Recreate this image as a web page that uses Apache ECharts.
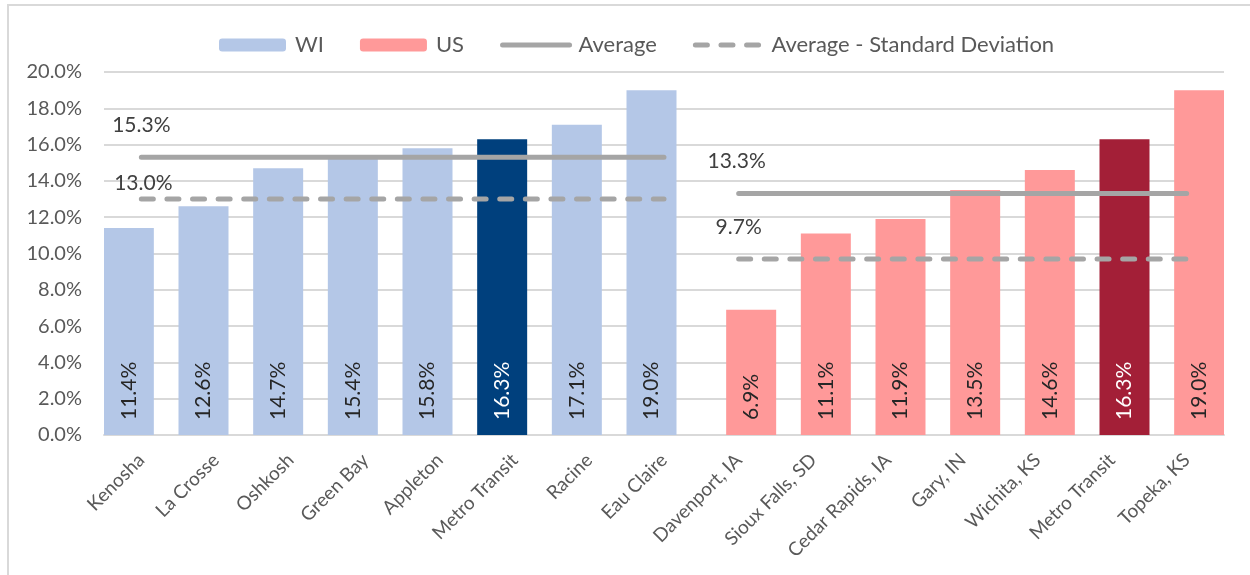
<!DOCTYPE html>
<html>
<head>
<meta charset="utf-8">
<script src="https://cdn.jsdelivr.net/npm/echarts@6/dist/echarts.min.js"></script>
<style>
html,body{margin:0;padding:0;background:#fff;}
#chart{width:1250px;height:575px;}
</style>
</head>
<body>
<div id="chart"></div>
<script>
const categories = ['Kenosha','La Crosse','Oshkosh','Green Bay','Appleton','Metro Transit','Racine','Eau Claire',
  'Davenport, IA','Sioux Falls, SD','Cedar Rapids, IA','Gary, IN','Wichita, KS','Metro Transit','Topeka, KS'];
const wiValues = [11.4, 12.6, 14.7, 15.4, 15.8, 16.3, 17.1, 19.0, '-', '-', '-', '-', '-', '-', '-'];
const usValues = ['-', '-', '-', '-', '-', '-', '-', '-', 6.9, 11.1, 11.9, 13.5, 14.6, 16.3, 19.0];
const wiAverage = [15.3, 15.3, 15.3, 15.3, 15.3, 15.3, 15.3, 15.3, '-', '-', '-', '-', '-', '-', '-'];
const wiAvgMinusSd = [13.0, 13.0, 13.0, 13.0, 13.0, 13.0, 13.0, 13.0, '-', '-', '-', '-', '-', '-', '-'];
const usAverage = ['-', '-', '-', '-', '-', '-', '-', '-', 13.3, 13.3, 13.3, 13.3, 13.3, 13.3, 13.3];
const usAvgMinusSd = ['-', '-', '-', '-', '-', '-', '-', '-', 9.7, 9.7, 9.7, 9.7, 9.7, 9.7, 9.7];
const highlighted = ['Metro Transit'];
const yTicks = { min: 0, max: 20, interval: 2 };

const FONT = 'Lato';
const pct = v => Number(v).toFixed(1) + '%';

function barData(values, darkColor) {
  return values.map((v, i) => {
    if (v === '-') return v;
    if (highlighted.includes(categories[i])) {
      return { value: v, itemStyle: { color: darkColor }, label: { color: '#ffffff' } };
    }
    return v;
  });
}
function lineData(values, labelDistance, labelOffset) {
  let first = true;
  return values.map(v => {
    if (v === '-') return v;
    if (first) {
      first = false;
      return { value: v, label: { show: true, position: 'top', distance: labelDistance, offset: labelOffset,
        formatter: p => pct(p.value), fontFamily: FONT, fontSize: 21, color: '#404040', opacity: 1 } };
    }
    return v;
  });
}

const barLabel = {
  show: true, position: 'insideBottom', rotate: 90, align: 'left', verticalAlign: 'middle',
  distance: 15, formatter: p => pct(p.value), fontFamily: FONT, fontSize: 21, color: '#262626'
};

const avgStyle = { color: '#a5a5a5', width: 5, cap: 'round' };
const sdStyle = { color: '#a5a5a5', width: 5, cap: 'round', type: [12, 13.6] };
const lineCommon = { type: 'line', symbol: 'circle', symbolSize: 1, showSymbol: true,
  itemStyle: { color: 'rgba(0,0,0,0)', borderWidth: 0 }, label: { show: false }, z: 5 };

const chart = echarts.init(document.getElementById('chart'), null, { renderer: 'canvas' });
chart.setOption({
  animation: false,
  backgroundColor: '#ffffff',
  graphic: [{
    type: 'rect', shape: { x: 8, y: 5, width: 1300, height: 640 },
    style: { fill: 'none', stroke: '#d9d9d9', lineWidth: 2 }, silent: true
  }],
  legend: {
    left: 214, top: 29,
    itemWidth: 67, itemHeight: 13, itemGap: 36,
    textStyle: { fontFamily: FONT, fontSize: 22, color: '#595959', padding: [0, 0, 0, 4] },
    data: [
      'WI', 'US',
      { name: 'Average', itemStyle: { opacity: 0 }, lineStyle: { width: 5, cap: 'round', color: '#a5a5a5' } },
      { name: 'Average - Standard Deviation', itemStyle: { opacity: 0 },
        lineStyle: { width: 5, cap: 'round', color: '#a5a5a5', type: [12, 13.6] } }
    ]
  },
  grid: { left: 104, right: 26, top: 72, bottom: 140, containLabel: false },
  xAxis: {
    type: 'category', data: categories,
    axisLine: { show: true, lineStyle: { color: '#d9d9d9', width: 2 } },
    axisTick: { show: false },
    axisLabel: { rotate: 45, interval: 0, margin: 22, fontFamily: FONT, fontSize: 19, color: '#595959' }
  },
  yAxis: {
    type: 'value', min: yTicks.min, max: yTicks.max, interval: yTicks.interval,
    axisLine: { show: false }, axisTick: { show: false },
    splitLine: { lineStyle: { color: '#d9d9d9', width: 2 } },
    axisLabel: { formatter: v => pct(v), margin: 22, fontFamily: FONT, fontSize: 20, color: '#595959' }
  },
  series: [
    { name: 'WI', type: 'bar', data: barData(wiValues, '#00407d'), barWidth: 50, barGap: '-50%',
      itemStyle: { color: '#b4c7e7' }, label: barLabel },
    { name: 'US', type: 'bar', data: barData(usValues, '#a31f37'), barWidth: 50, barGap: '-50%',
      itemStyle: { color: '#ff9999' }, label: barLabel },
    Object.assign({}, lineCommon, { name: 'Average', data: lineData(wiAverage, 21, [0, 0]), lineStyle: avgStyle }),
    Object.assign({}, lineCommon, { name: 'Average - Standard Deviation', data: lineData(wiAvgMinusSd, 5, [2, 0]), lineStyle: sdStyle }),
    Object.assign({}, lineCommon, { name: 'Average', data: lineData(usAverage, 21, [-2, 0]), lineStyle: avgStyle }),
    Object.assign({}, lineCommon, { name: 'Average - Standard Deviation', data: lineData(usAvgMinusSd, 21, [0, 0]), lineStyle: sdStyle })
  ]
});
</script>
</body>
</html>
